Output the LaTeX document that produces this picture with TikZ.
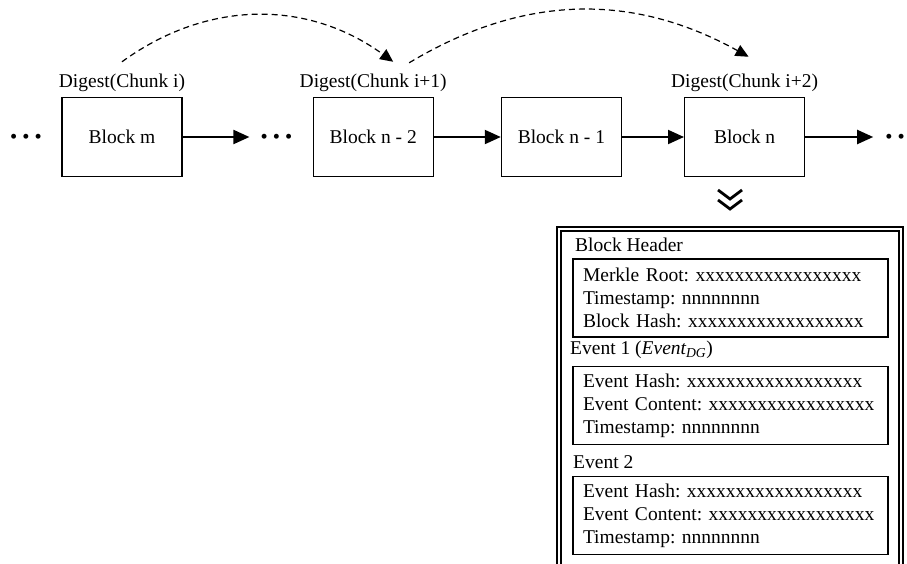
\documentclass[tikz,border=0pt]{standalone}
\usepackage{fontspec}
\setmainfont{Liberation Serif}
\usetikzlibrary{arrows.meta, positioning, calc}
\frenchspacing

\begin{document}
\begin{tikzpicture}[x=1pt,y=-1pt,>={Triangle[length=16pt,width=14pt]},node distance=2cm,
	block node/.style={rectangle,draw,line width=1.2pt,minimum width=120pt,minimum height=79pt,inner sep=0pt,font=\fontsize{19.5}{23}\selectfont},
	dots node/.style={inner sep=0pt,font=\fontsize{20.5}{24}\selectfont},
	digest node/.style={inner sep=0pt,font=\fontsize{19.5}{23}\selectfont},
	link/.style={->,line width=2pt},
	hop/.style={-{Triangle[length=13pt,width=12pt]},line width=1.2pt,dash pattern=on 6pt off 4pt},
	chevron/.style={line width=2.8pt,line join=miter},
	field box/.style={rectangle,draw,line width=1.3pt,minimum width=315pt,minimum height=78pt,text width=295pt,inner xsep=10pt,align=left,font=\fontsize{19.5}{23}\selectfont},
	title node/.style={anchor=west,inner sep=0pt,font=\fontsize{19.5}{23}\selectfont}]
	
	\useasboundingbox (0,0) rectangle (907,563);
	\clip (0,0) rectangle (907,563);
	
	% chain of blocks
	\node[block node] (bm) at (122,137) {Block m};
	\node[block node] (bn2) [right=130pt of bm] {Block n - 2};
	\node[block node] (bn1) [right=67pt of bn2] {Block n - 1};
	\node[block node] (bn) [right=62pt of bn1] {Block n};
	
	\node[dots node] (dl) at (26,139) {• • •};
	\node[dots node] (dm) [left=20pt of bn2,yshift=-2pt] {• • •};
	\node[dots node] (dr) [right=80pt of bn,yshift=-2pt] {• •};
	
	\draw[link,shorten >=11pt] (bm.east) -- (bm.east -| dm.west);
	\draw[link] (bn2) -- (bn1);
	\draw[link] (bn1) -- (bn);
	\draw[link,shorten >=12pt] (bn.east) -- (bn.east -| dr.west);
	
	% digests
	\node[digest node] (dg1) [above=5pt of bm] {Digest(Chunk i)};
	\node[digest node] (dg2) [above=5pt of bn2] {Digest(Chunk i+1)};
	\node[digest node] (dg3) [above=5pt of bn] {Digest(Chunk i+2)};
	
	\draw[hop] ([yshift=12pt]dg1.north) to[bend left=36] ([xshift=20pt,yshift=12pt]dg2.north);
	\draw[hop] ([xshift=36pt,yshift=11pt]dg2.north) to[bend left=30] ([xshift=4pt,yshift=17pt]dg3.north);
	
	% block contents
	\coordinate (chev) at (730,199);
	\draw[chevron] ($(chev)+(-12,-9)$) -- (chev) -- ($(chev)+(12,-9)$);
	\draw[chevron] ($(chev)+(-12,1)$) -- ($(chev)+(0,10)$) -- ($(chev)+(12,1)$);
	
	\node[draw,double,line width=1.2pt,double distance=2.8pt,outer sep=0pt,minimum width=342pt,minimum height=380pt,anchor=north] (blk) at (730,229) {};
	
	\node[title node] (thdr) at (575,245) {Block Header};
	\node[field box] (hdr) at (730.5,298) {Merkle Root: xxxxxxxxxxxxxxxxx\\Timestamp: nnnnnnnn\\Block Hash: xxxxxxxxxxxxxxxxxx};
	
	\node[title node] (tev1) at (570,350) {Event 1 ({\itshape Event\textsubscript{DG}})};
	\node[field box] (ev1) at (730.5,405.5) {Event Hash: xxxxxxxxxxxxxxxxxx\\Event Content: xxxxxxxxxxxxxxxxx\\Timestamp: nnnnnnnn};
	
	\node[title node] (tev2) at (573,462) {Event 2};
	\node[field box] (ev2) at (730.5,515.5) {Event Hash: xxxxxxxxxxxxxxxxxx\\Event Content: xxxxxxxxxxxxxxxxx\\Timestamp: nnnnnnnn};
\end{tikzpicture}
\end{document}
